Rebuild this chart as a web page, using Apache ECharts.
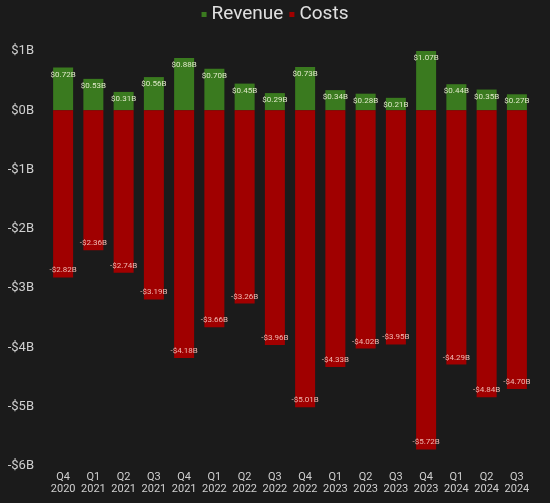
<!DOCTYPE html>
<html><head><meta charset="utf-8">
<script src="https://cdn.jsdelivr.net/npm/echarts@6/dist/echarts.min.js"></script>
<style>html,body{margin:0;padding:0;background:#1b1b1b;}#c{width:550px;height:503px;}</style>
</head><body><div id="c"></div>
<script>
const categories = ["Q4\n2020","Q1\n2021","Q2\n2021","Q3\n2021","Q4\n2021","Q1\n2022","Q2\n2022","Q3\n2022","Q4\n2022","Q1\n2023","Q2\n2023","Q3\n2023","Q4\n2023","Q1\n2024","Q2\n2024","Q3\n2024"];
const revenue = [0.72,0.53,0.31,0.56,0.88,0.70,0.45,0.29,0.73,0.34,0.28,0.21,1.07,0.44,0.35,0.27];
const costs = [-2.82,-2.36,-2.74,-3.19,-4.18,-3.66,-3.26,-3.96,-5.01,-4.33,-4.02,-3.95,-5.72,-4.29,-4.84,-4.70];
const yTicks = [-6,-5,-4,-3,-2,-1,0,1];

function fmt(v){ return (v<0?'-$':'$') + Math.abs(v).toFixed(2) + 'B'; }

const chart = echarts.init(document.getElementById('c'));
chart.setOption({
  backgroundColor:'#1b1b1b',
  animation:false,
  legend:{
    top:0, left:'center',
    itemWidth:5, itemHeight:5, itemGap:6,
    icon:'rect',
    textStyle:{color:'#e0e0e0', fontSize:19, fontFamily:'Roboto'},
    data:['Revenue','Costs']
  },
  grid:{left:48, right:18, top:51, bottom:37},
  xAxis:{
    type:'category', data:categories,
    axisLine:{show:false}, axisTick:{show:false},
    axisLabel:{color:'#cfcfcf', fontSize:11, fontFamily:'Roboto', lineHeight:12, margin:5, interval:0}
  },
  yAxis:{
    type:'value', min:yTicks[0], max:yTicks[yTicks.length-1], interval:1,
    splitLine:{show:false}, axisLine:{show:false}, axisTick:{show:false},
    axisLabel:{color:'#d0d0d0', fontSize:13, fontFamily:'Roboto', margin:14,
      formatter:v=> (v<0?'-$':'$') + Math.abs(v) + 'B'}
  },
  series:[
    {name:'Revenue', type:'bar', stack:'t', data:revenue, barWidth:20,
     itemStyle:{color:'#3a7a1f'},
     label:{show:true, position:'insideTop', distance:3, color:'#dfe8c8', fontSize:8, fontFamily:'Roboto', formatter:p=>fmt(p.value)}},
    {name:'Costs', type:'bar', stack:'t', data:costs, barWidth:20,
     itemStyle:{color:'#a00000'},
     label:{show:true, position:'insideBottom', distance:3, color:'#f0b8b0', fontSize:8, fontFamily:'Roboto', formatter:p=>fmt(p.value)}}
  ]
});
</script></body></html>
